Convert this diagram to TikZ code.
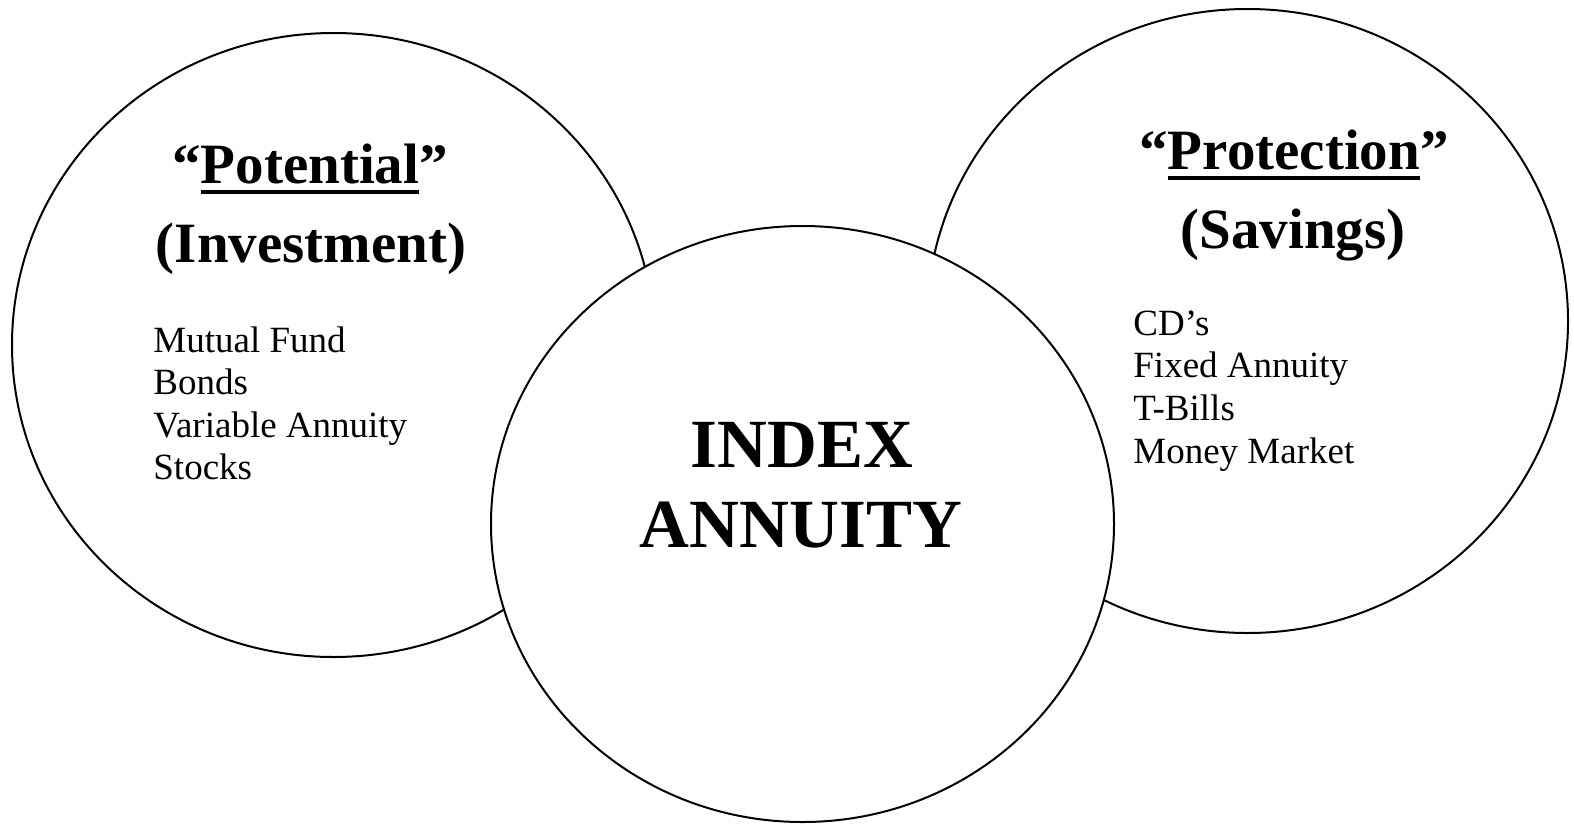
\documentclass[tikz,border=0pt]{standalone}
\usepackage{fontspec}
\setmainfont{Liberation Serif}
\usetikzlibrary{shapes.geometric}

% thick rule under a word, as in the headings
\newcommand\ulword[1]{\leavevmode\vtop{\hbox{#1}\kern3pt\hrule height 2.2pt}}

\tikzset{
  ring/.style={ellipse, draw, line width=1pt, inner sep=0pt},
  head/.style={font=\fontsize{28.5}{35}\selectfont\bfseries, anchor=base},
  mid/.style={font=\fontsize{34.5}{40}\selectfont\bfseries, anchor=base},
  entry/.style={font=\fontsize{18.5}{21}\selectfont, anchor=base west, inner sep=0pt},
}

\begin{document}
\begin{tikzpicture}[x=0.5pt, y=-0.5pt]
  \useasboundingbox (0,0) rectangle (1574,825);

  % the three rings, the middle one on top
  \node[ring, minimum width=321.5pt, minimum height=312pt] (potential) at (333.5,345) {};
  \node[ring, minimum width=320.5pt, minimum height=312pt] (protection) at (1247.5,321) {};
  \node[ring, fill=white, minimum width=311.5pt, minimum height=298pt] (index) at (802.5,524) {};

  % headings
  \node[head] (pot) at (310,183) {``\ulword{Potential}''};
  \node[head] (inv) at (311,262) {(Investment)};
  \node[head] (prot) at (1294,169) {``\ulword{Protection}''};
  \node[head] (sav) at (1293,248) {(Savings)};

  \node[mid] (idx) at (802,467) {INDEX};
  \node[mid] (ann) at (801,547) {ANNUITY};

  % lists
  \foreach \y/\txt [count=\i] in {352/Mutual Fund, 394/Bonds, 437/Variable Annuity, 479/Stocks}
    \node[entry] (inv-\i) at (153,\y) {\txt};
  \foreach \y/\txt [count=\i] in {335/CD's, 377/Fixed Annuity, 420/T-Bills, 463/Money Market}
    \node[entry] (sav-\i) at (1133,\y) {\txt};
\end{tikzpicture}
\end{document}
